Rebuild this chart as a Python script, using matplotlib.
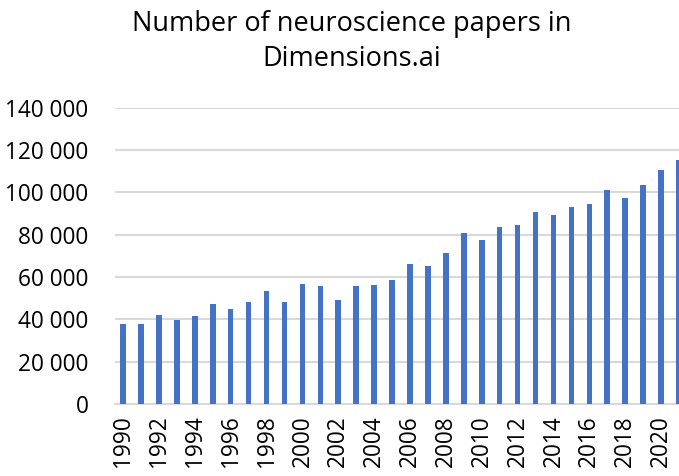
import matplotlib.pyplot as plt
from matplotlib.ticker import FuncFormatter

years = list(range(1990, 2022))
papers = [37650, 37650, 41900, 39700, 41400, 47400, 44700, 48300, 53500, 48200,
          56700, 55900, 49000, 55800, 56100, 58400, 66000, 65200, 71500, 80600,
          77300, 83500, 84400, 90600, 89100, 93200, 94300, 101300, 97200, 103500,
          110700, 115100]
title = "Number of neuroscience papers in\nDimensions.ai"

plt.rcParams['font.family'] = ['Open Sans', 'DejaVu Sans']

fig = plt.figure(figsize=(6.79, 4.76), dpi=100)
ax = fig.add_axes([115 / 679, 72 / 476, 1 - 115 / 679, 296.3 / 476])

ax.bar(years, papers, width=0.31, color='#4472C4', zorder=3)

ax.set_xlim(1989.55, 2021.0)
ax.set_ylim(0, 140000)
ax.set_yticks(range(0, 140001, 20000))
ax.yaxis.set_major_formatter(FuncFormatter(lambda v, p: f"{int(v):,}".replace(",", " ")))
ax.set_xticks(years[::2])
ax.set_xticklabels([str(y) for y in years[::2]], rotation=90, va='top')

ax.grid(axis='y', color='#d9d9d9', linewidth=1.5, zorder=0)
for s in ['top', 'right', 'left']:
    ax.spines[s].set_visible(False)
ax.spines['bottom'].set_color('#d9d9d9')
ax.spines['bottom'].set_linewidth(1.5)
ax.tick_params(axis='both', length=0, labelsize=16.3, colors='black')
ax.tick_params(axis='y', pad=19)
ax.tick_params(axis='x', pad=8)

fig.text(351.5 / 679, 1 - 41.5 / 476, title, ha='center', va='center',
         fontsize=19.5, linespacing=1.35)

fig.savefig('out.png', dpi=100)
